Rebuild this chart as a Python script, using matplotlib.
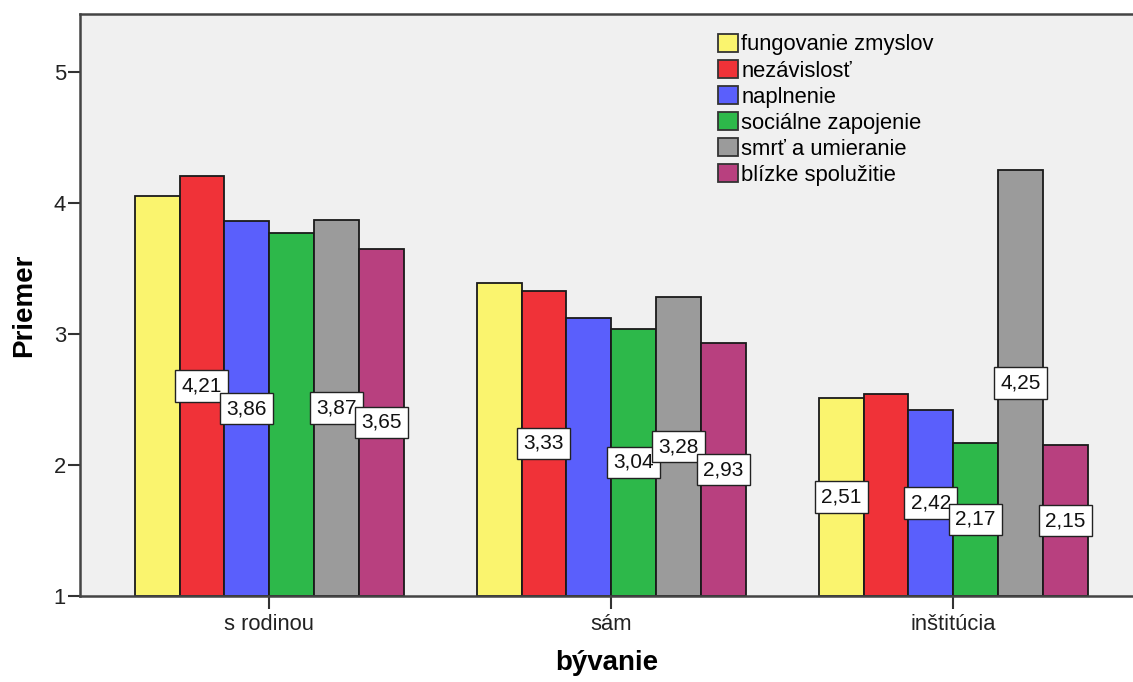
import matplotlib
matplotlib.use("Agg")
import matplotlib.pyplot as plt
import numpy as np
from matplotlib.patches import Patch

plt.rcParams['font.family'] = ['Liberation Sans', 'DejaVu Sans']

categories = ["s rodinou", "sám", "inštitúcia"]
series_names = ["fungovanie zmyslov", "nezávislosť", "naplnenie",
                "sociálne zapojenie", "smrť a umieranie", "blízke spolužitie"]
fungovanie = [4.05, 3.39, 2.51]
nezavislost = [4.21, 3.33, 2.54]
naplnenie = [3.86, 3.12, 2.42]
socialne = [3.77, 3.04, 2.17]
smrt = [3.87, 3.28, 4.25]
blizke = [3.65, 2.93, 2.15]
series_values = [fungovanie, nezavislost, naplnenie, socialne, smrt, blizke]
# which value labels are displayed (others are hidden in the original)
label_shown = [
    [False, False, True],
    [True, True, False],
    [True, False, True],
    [False, True, True],
    [True, True, True],
    [True, True, True],
]
colors = ["#FAF46E", "#F03238", "#5A5FFC", "#2DB84A", "#9B9B9B", "#B8407F"]

FS = 15.8

fig = plt.figure(figsize=(11.33, 6.82), dpi=100)
ax = fig.add_axes([80/1133, 86/682, 1 - 80/1133, (596-14)/682])
ax.set_facecolor("#F0F0F0")
fig.patch.set_facecolor("white")

base = 1.0
x = np.arange(len(categories))
n = len(series_values)
width = 0.131
for i, (vals, col) in enumerate(zip(series_values, colors)):
    pos = x + (i - (n - 1) / 2) * width
    heights = np.array(vals) - base
    ax.bar(pos, heights, width=width, bottom=base, color=col,
           edgecolor="#1a1a1a", linewidth=1.3, zorder=2)
    for p, v, show in zip(pos, vals, label_shown[i]):
        if show:
            ax.text(p, (base + v) / 2, f"{v:.2f}".replace(".", ","),
                    ha="center", va="center", fontsize=15, color="#111111",
                    zorder=4,
                    bbox=dict(boxstyle="square,pad=0.3", facecolor="white",
                              edgecolor="#222222", linewidth=1.0))

ax.set_xlim(-0.553, 2.526)
ax.set_ylim(1, 5.443)
ax.set_yticks([1, 2, 3, 4, 5])
ax.set_xticks(x)
ax.set_xticklabels(categories)
ax.tick_params(axis="both", direction="out", length=9, width=1.5,
               colors="#333333", labelsize=FS, labelcolor="#222222", pad=1)
ax.tick_params(axis="x", pad=4)

for s in ["left", "top", "bottom"]:
    ax.spines[s].set_color("#444444")
    ax.spines[s].set_linewidth(1.8)
ax.spines["right"].set_visible(False)

ax.set_ylabel("Priemer", fontsize=20, fontweight="bold", labelpad=12)
ax.set_xlabel("bývanie", fontsize=20, fontweight="bold", labelpad=11)

handles = [Patch(facecolor=c, edgecolor="#333333", linewidth=1.3) for c in colors]
leg = ax.legend(handles, series_names, loc="upper left",
                bbox_to_anchor=(0.606, 0.966), frameon=False,
                fontsize=FS, handlelength=0.9, handleheight=0.9,
                handletextpad=0.15, labelspacing=0.2, borderaxespad=0.0,
                borderpad=0.0)

fig.savefig("out.png", dpi=100)
